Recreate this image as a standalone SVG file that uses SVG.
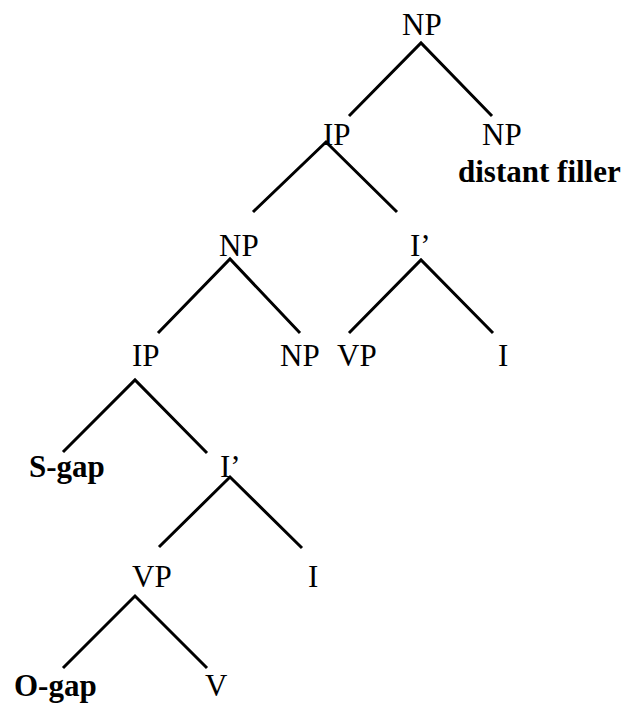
<svg xmlns="http://www.w3.org/2000/svg" width="625" height="705" viewBox="0 0 625 705">
<style>
text{font-family:"Liberation Serif","Times New Roman",serif;font-size:31px;fill:#000}
.b{font-weight:bold}
.e{fill:none;stroke:#000;stroke-width:3;stroke-linejoin:miter;stroke-linecap:butt}
</style>
<rect width="625" height="705" fill="#fff"/>
<g id="connectors">
<polyline class="e" points="349,116 421,43 492,116"/>
<polyline class="e" points="253,212 326,142 397,212"/>
<polyline class="e" points="158,333 230,259 300,333"/>
<polyline class="e" points="349,333 421,260 493,333"/>
<polyline class="e" points="63,452 135,380 207,453"/>
<polyline class="e" points="159,547 230,477 302,548"/>
<polyline class="e" points="63,668 135,596 207,668"/>
</g>
<g id="n1"><text x="402" y="35">NP</text></g>
<g id="n2"><text x="323" y="145">IP</text></g>
<g id="n3"><text x="482" y="145">NP</text><text class="b" x="458" y="182">distant filler</text></g>
<g id="n4"><text x="219" y="256">NP</text></g>
<g id="n5"><text x="410" y="256">I’</text></g>
<g id="n6"><text x="132" y="366">IP</text></g>
<g id="n7"><text x="280" y="366">NP</text></g>
<g id="n8"><text x="337" y="366">VP</text></g>
<g id="n9"><text x="498" y="366">I</text></g>
<g id="n10"><text class="b" x="29" y="477">S-gap</text></g>
<g id="n11"><text x="220" y="477">I’</text></g>
<g id="n12"><text x="132" y="587">VP</text></g>
<g id="n13"><text x="308" y="587">I</text></g>
<g id="n14"><text class="b" x="14" y="696">O-gap</text></g>
<g id="n15"><text x="205" y="696">V</text></g>
</svg>
